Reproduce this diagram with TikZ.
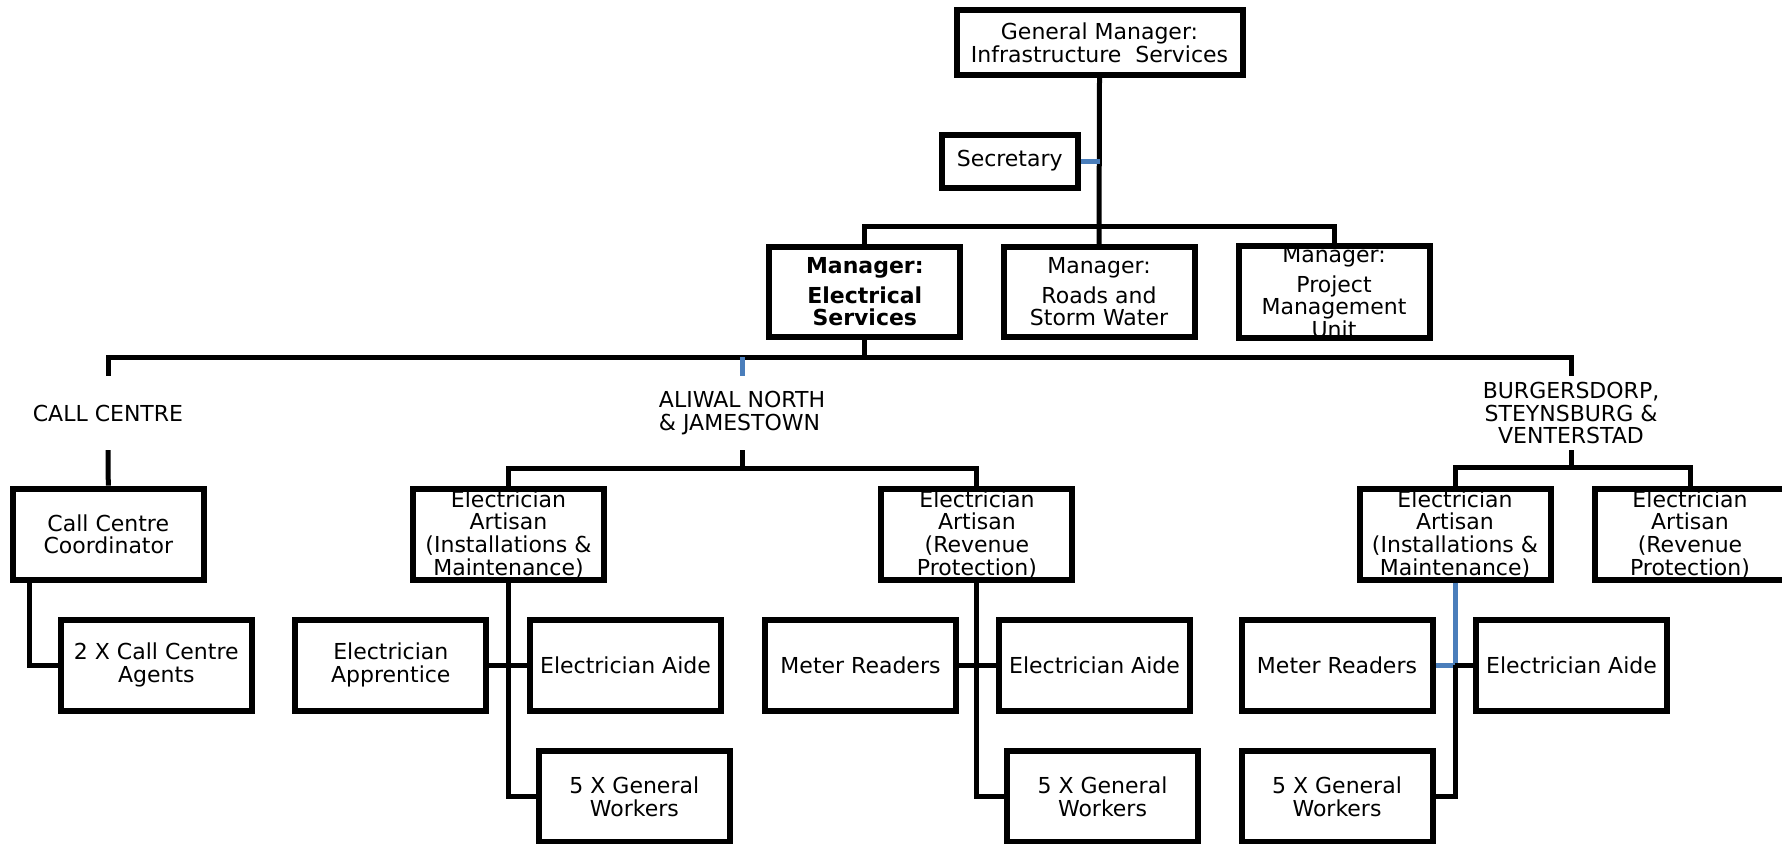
\documentclass[tikz,border=0pt]{standalone}
\usepackage{fontspec}
\setmainfont{DejaVu Sans}
\definecolor{clrLink}{HTML}{4A7EBB}
\newcommand{\chartfont}{\fontsize{22}{22.6}\selectfont}
\tikzset{
  unit/.style = {rectangle, draw, line width=6pt, minimum width=191pt, minimum height=91pt,
                 inner sep=0pt, align=center, font=\chartfont},
  area/.style = {rectangle, minimum width=190pt, minimum height=74pt, inner sep=0pt,
                 font=\chartfont},
  link/.style = {line width=5pt},
  blink/.style = {line width=5pt, color=clrLink},
}

\begin{document}
\begin{tikzpicture}[x=1pt, y=-1pt,
  head/.style = {unit, minimum width=286pt, minimum height=65pt},
  mgr/.style = {unit, minimum height=90pt},
]
\useasboundingbox (0,0) rectangle (1782,843);

% Top management
\node[head] (gm) at (1099.5,42.5) {General Manager:\\Infrastructure\ \ Services};
\node[unit, minimum width=136pt, minimum height=53pt] (sec) at (1009.7,161) {Secretary};
\node[mgr, font=\chartfont\bfseries] (mgrE) at (864.8,292) {Manager:\\[7pt]Electrical\\Services};
\node[mgr] (mgrR) at (1099,292) {Manager:\\[7pt]Roads and\\Storm Water};
\node[mgr] (mgrP) at (1334,292) {Manager:\\[7pt]Project\\Management\\Unit};

% Areas
\node[area] (callc) at (108,413) {CALL CENTRE};
\node[area, align=left] (aliwal) at (742,413) {ALIWAL NORTH\\\& JAMESTOWN};
\node[area, align=center] (burg) at (1571,413) {BURGERSDORP,\\STEYNSBURG \&\\VENTERSTAD};

% Row 2
\node[unit] (ccc) at (108.3,534.2) {Call Centre\\Coordinator};
\node[unit] (aIM) at (508.5,534.2) {Electrician\\Artisan\\(Installations \&\\Maintenance)};
\node[unit] (aRP) at (976.9,534.2) {Electrician\\Artisan\\(Revenue\\Protection)};
\node[unit] (bIM) at (1455,534.2) {Electrician\\Artisan\\(Installations \&\\Maintenance)};
\node[unit] (bRP) at (1690,534.2) {Electrician\\Artisan\\(Revenue\\Protection)};

% Row 3
\node[unit] (cca) at (156.3,665) {2 X Call Centre\\Agents};
\node[unit] (aApp) at (390.8,665) {Electrician\\Apprentice};
\node[unit] (aAide) at (625.5,665) {Electrician Aide};
\node[unit] (aMR) at (860.5,665) {Meter Readers};
\node[unit] (aRPAide) at (1094.5,665) {Electrician Aide};
\node[unit] (bMR) at (1337,665) {Meter Readers};
\node[unit] (bAide) at (1571.5,665) {Electrician Aide};

% Row 4
\node[unit] (aGW) at (634.3,796.8) {5 X General\\Workers};
\node[unit] (aRPGW) at (1102.5,796.8) {5 X General\\Workers};
\node[unit] (bGW) at (1337,796.8) {5 X General\\Workers};

% Buses
\coordinate (topbus) at (1099,226.7);
\coordinate (bus) at (864.8,357);
\coordinate (abus) at (742,468);
\coordinate (bbus) at (1571,467);

% Links
\draw[link] (gm.south) -- (mgrR.north);
\draw[blink] (sec.east) -- (sec.east -| gm.south);
\draw[link] (mgrE.north) |- (topbus) -| (mgrP.north);
\draw[link] (mgrE.south) -- (bus);
\draw[link] (callc.north) |- (bus) -| (burg.north);
\draw[blink] (aliwal.north) -- (aliwal.north |- bus);
\draw[link] (callc.south) -- (ccc.north);
\draw[link] ([xshift=20pt]ccc.south west) |- (cca.west);
\draw[link] (aliwal.south) -- (abus);
\draw[link] (aIM.north) |- (abus) -| (aRP.north);
\draw[link] (aIM.south) |- (aGW.west);
\draw[link] (aApp.east) -- (aAide.west);
\draw[link] (aRP.south) |- (aRPGW.west);
\draw[link] (aMR.east) -- (aRPAide.west);
\draw[link] (burg.south) -- (bbus);
\draw[link] (bIM.north) |- (bbus) -| (bRP.north);
\draw[blink] (bIM.south) |- (bMR.east);
\draw[link] (bMR.east -| bIM.south) -- (bAide.west);
\draw[link] (bMR.east -| bIM.south) |- (bGW.east);
\end{tikzpicture}
\end{document}
